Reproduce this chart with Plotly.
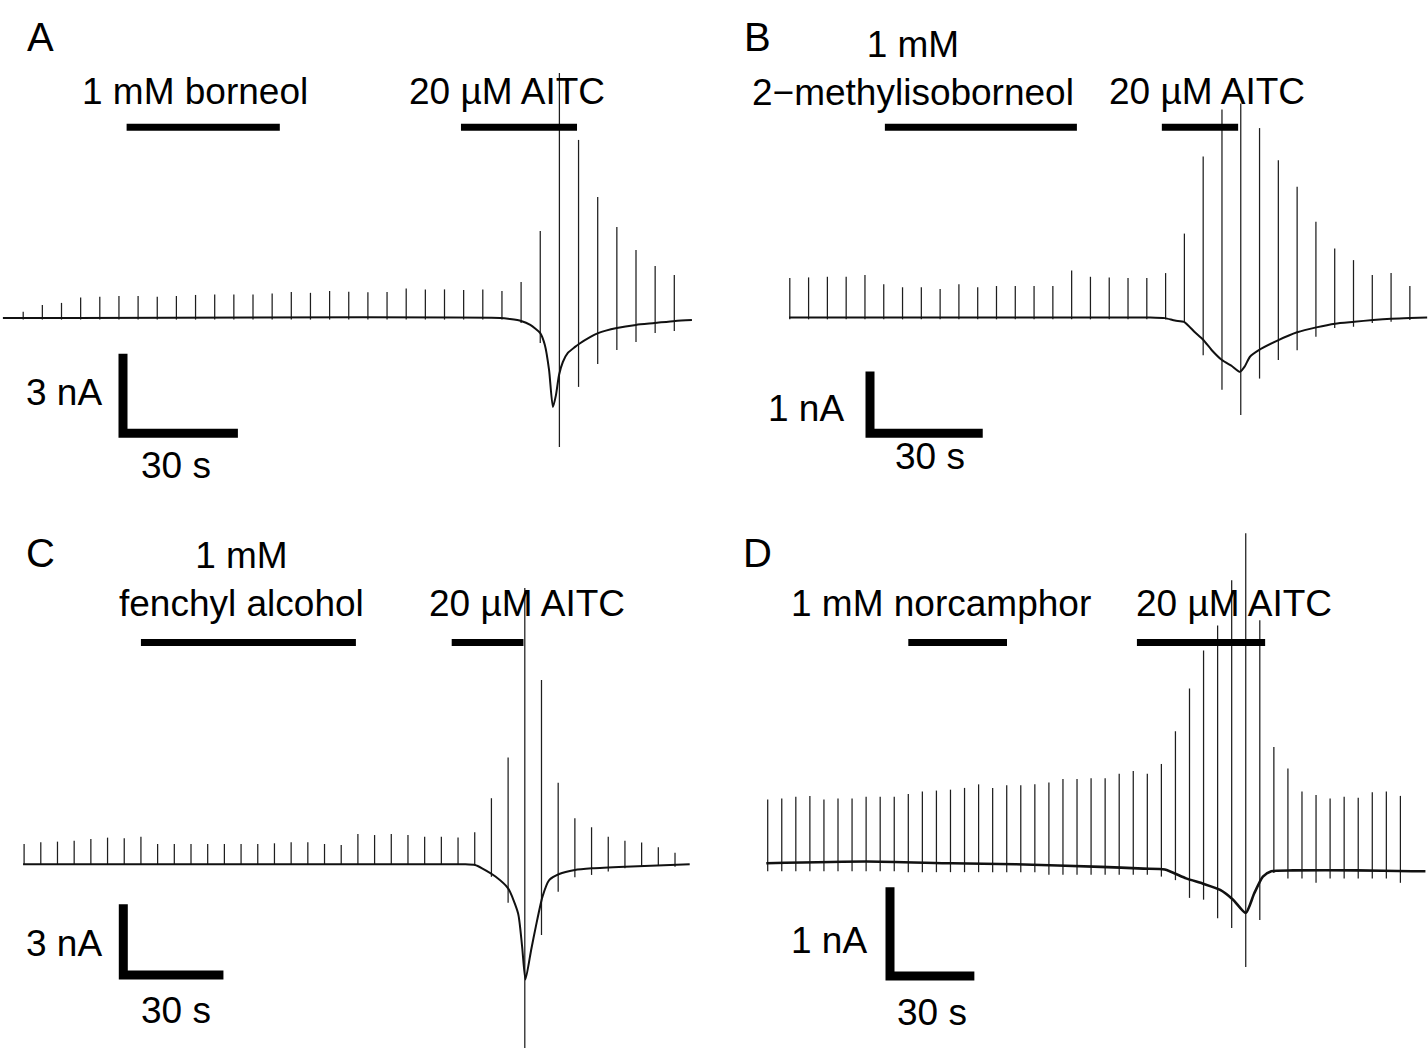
import plotly.graph_objects as go

W, H = 1428, 1053
FONT = "Liberation Sans, Arial, Helvetica, sans-serif"

# ================= DATA (time in s, current in nA) =================
# ---- Panel A : 1 mM borneol, then 20 uM AITC ----
A_spike_t = [0, 5, 10, 15, 20, 25, 30, 35, 40, 45, 50, 55, 60, 65, 70, 75, 80, 85,
             90, 95, 100, 105, 110, 115, 120, 125, 130, 135, 140, 145, 150, 155, 160, 165, 170]
A_spike_top = [0.24, 0.49, 0.57, 0.77, 0.80, 0.83, 0.83, 0.80, 0.83, 0.87, 0.89, 0.89, 0.89,
               0.92, 0.98, 0.95, 1.02, 0.99, 0.97, 0.98, 1.11, 1.08, 1.08, 1.06, 1.08, 1.02,
               1.36, 3.28, 9.25, 6.72, 4.57, 3.43, 2.57, 1.96, 1.62]
A_spike_bot = [-0.06, -0.06, -0.06, -0.06, -0.06, -0.06, -0.06, -0.06, -0.06, -0.06, -0.06,
               -0.06, -0.06, -0.06, -0.06, -0.06, -0.06, -0.06, -0.06, -0.06, -0.06, -0.06,
               -0.06, -0.06, -0.06, -0.06, -0.19, -0.94, -4.87, -2.60, -1.74, -1.21, -0.91,
               -0.57, -0.49]
A_base_t = [-5.3, 124.5, 127.1, 130.0, 132.4, 135.0, 136.2, 137.3, 138.3, 139.1, 139.9, 140.9,
            142.2, 144.1, 145.1, 148.0, 150.1, 155.0, 160.0, 164.9, 170.2, 174.6]
A_base_i = [0, 0, -0.04, -0.11, -0.26, -0.57, -1.02, -1.96, -3.36, -2.91, -2.15, -1.66,
            -1.32, -1.09, -0.98, -0.72, -0.57, -0.38, -0.26, -0.19, -0.11, -0.08]
A_drugs = ["1 mM borneol", "20 µM AITC"]
A_drug_on = [27.0, 114.3]
A_drug_off = [67.0, 144.6]

# ---- Panel B : 1 mM 2-methylisoborneol, then 20 uM AITC ----
B_spike_t = [0, 5, 10, 15, 20, 25, 30, 35, 40, 45, 50, 55, 60, 65, 70, 75, 80, 85,
             90, 95, 100, 105, 110, 115, 120, 125, 130, 135, 140, 145, 150, 155, 160, 165]
B_spike_top = [0.64, 0.65, 0.66, 0.66, 0.69, 0.54, 0.49, 0.49, 0.46, 0.54, 0.49, 0.51, 0.51,
               0.51, 0.51, 0.76, 0.66, 0.65, 0.64, 0.64, 0.72, 1.36, 2.61, 3.37, 3.47, 3.07,
               2.55, 2.12, 1.55, 1.12, 0.93, 0.69, 0.72, 0.51]
B_spike_bot = [-0.03, -0.03, -0.03, -0.03, -0.03, -0.03, -0.03, -0.03, -0.03, -0.03, -0.03,
               -0.03, -0.03, -0.03, -0.03, -0.03, -0.03, -0.03, -0.03, -0.03, -0.03, -0.07,
               -0.61, -1.17, -1.58, -0.99, -0.69, -0.53, -0.31, -0.17, -0.15, -0.09, -0.07,
               -0.04]
B_base_t = [-0.2, 95.9, 99.8, 102.5, 104.9, 107.8, 110.0, 112.3, 115.0, 117.7, 119.8, 121.1,
            122.4, 124.8, 129.9, 135.0, 140.1, 145.1, 150.2, 155.2, 160.0, 165.0, 169.6]
B_base_i = [0, 0, -0.01, -0.05, -0.07, -0.24, -0.36, -0.53, -0.69, -0.79, -0.88, -0.79,
            -0.64, -0.53, -0.37, -0.24, -0.16, -0.10, -0.07, -0.04, -0.02, -0.01, 0]
B_drugs = ["1 mM<br>2−methylisoborneol", "20 µM AITC"]
B_drug_on = [25.3, 99.0]
B_drug_off = [76.4, 119.3]

# ---- Panel C : 1 mM fenchyl alcohol, then 20 uM AITC ----
C_spike_t = [0, 5, 10, 15, 20, 25, 30, 35, 40, 45, 50, 55, 60, 65, 70, 75, 80, 85, 90, 95,
             100, 105, 110, 115, 120, 125, 130, 135, 140, 145, 150, 155, 160, 165, 170, 175,
             180, 185, 190, 195]
C_spike_top = [0.86, 0.93, 0.96, 1.00, 1.07, 1.13, 1.10, 1.17, 0.86, 0.86, 0.86, 0.86, 0.86,
               0.86, 0.86, 0.89, 0.93, 0.93, 0.86, 0.82, 1.28, 1.24, 1.28, 1.24, 1.17, 1.17,
               1.14, 1.36, 2.80, 4.53, 11.71, 7.81, 3.46, 1.95, 1.57, 1.17, 1.00, 0.92, 0.72,
               0.49]
C_spike_bot = [-0.02, -0.02, -0.02, -0.02, -0.02, -0.02, -0.02, -0.02, -0.02, -0.02, -0.02,
               -0.02, -0.02, -0.02, -0.02, -0.02, -0.02, -0.02, -0.02, -0.02, -0.02, -0.02,
               -0.02, -0.02, -0.02, -0.02, -0.02, -0.02, -0.53, -1.63, -7.78, -3.00, -1.16,
               -0.55, -0.45, -0.31, -0.17, -0.10, -0.07, -0.10]
C_base_t = [-0.3, 131.8, 135.1, 137.2, 141.2, 145.0, 148.0, 149.2, 150.2, 151.9, 153.3, 155.3,
            157.3, 160.3, 165.0, 170.1, 180.0, 199.4]
C_base_i = [0, 0, -0.03, -0.17, -0.52, -1.02, -2.08, -3.49, -4.88, -3.63, -2.64, -1.37,
            -0.67, -0.41, -0.24, -0.17, -0.10, 0]
C_drugs = ["1 mM<br>fenchyl alcohol", "20 µM AITC"]
C_drug_on = [35.0, 128.1]
C_drug_off = [99.4, 149.6]

# ---- Panel D : 1 mM norcamphor, then 20 uM AITC ----
D_spike_t = [0, 5, 10, 15, 20, 25, 30, 35, 40, 45, 50, 55, 60, 65, 70, 75, 80, 85, 90, 95,
             100, 105, 110, 115, 120, 125, 130, 135, 140, 145, 150, 155, 160, 165, 170, 175,
             180, 185, 190, 195, 200, 205, 210, 215, 220, 225]
D_spike_top = [0.72, 0.73, 0.75, 0.76, 0.72, 0.73, 0.73, 0.75, 0.75, 0.75, 0.78, 0.81, 0.82,
               0.83, 0.85, 0.89, 0.85, 0.88, 0.88, 0.89, 0.91, 0.95, 0.95, 0.96, 0.96, 1.01,
               1.04, 1.01, 1.12, 1.49, 1.97, 2.40, 2.68, 3.19, 3.72, 2.74, 1.31, 1.07, 0.81,
               0.77, 0.73, 0.75, 0.74, 0.80, 0.81, 0.76]
D_spike_bot = [-0.09, -0.09, -0.09, -0.09, -0.09, -0.09, -0.09, -0.09, -0.09, -0.09, -0.10,
               -0.10, -0.10, -0.10, -0.10, -0.10, -0.10, -0.10, -0.10, -0.10, -0.13, -0.13,
               -0.13, -0.13, -0.13, -0.13, -0.13, -0.13, -0.15, -0.19, -0.39, -0.41, -0.62,
               -0.73, -1.17, -0.64, -0.11, -0.17, -0.17, -0.22, -0.17, -0.17, -0.17, -0.17,
               -0.17, -0.22]
D_base_t = [-0.5, 35.1, 65.4, 88.2, 118.5, 133.6, 141.2, 148.8, 154.8, 160.9, 165.5, 170.0,
            173.0, 176.1, 179.1, 186.7, 209.4, 229.1, 233.9]
D_base_i = [0, 0.02, 0, -0.01, -0.04, -0.06, -0.07, -0.17, -0.23, -0.30, -0.41, -0.56,
            -0.34, -0.15, -0.09, -0.08, -0.08, -0.09, -0.09]
D_drugs = ["1 mM norcamphor", "20 µM AITC"]
D_drug_on = [50.0, 131.3]
D_drug_off = [85.1, 176.9]

# scale bars (current, time)
SCALE_NA = {"A": 3, "B": 1, "C": 3, "D": 1}
SCALE_S = 30

# ================= LAYOUT (pixel geometry) =================
# origin px = pixel position of (t=0, I=0); pps = px per s; ppn = px per nA
P = {
    "A": dict(ax=1, dom_x=(0, 0.5), dom_y=(0.5, 1), x0=23.2, y0=318.0, pps=3.83, ppn=26.5,
              base_w=2.0, sb=(123, 433.3), bar_y=127.3,
              label=("A", 40, 37), drug_lbl=[(195, 92), (507, 92)],
              sb_lbl=[("3 nA", 64, 392), ("30 s", 176, 465)]),
    "B": dict(ax=2, dom_x=(0.5, 1), dom_y=(0.5, 1), x0=789.8, y0=317.5, pps=3.758, ppn=61.7,
              base_w=2.0, sb=(870, 433.3), bar_y=127.3,
              label=("B", 757, 37), drug_lbl=[(913, 68), (1207, 92)],
              sb_lbl=[("1 nA", 806, 408), ("30 s", 930, 457)]),
    "C": dict(ax=3, dom_x=(0, 0.5), dom_y=(0, 0.5), x0=24.1, y0=864.3, pps=3.338, ppn=23.6,
              base_w=2.0, sb=(123.3, 975), bar_y=642.5,
              label=("C", 40, 553), drug_lbl=[(241, 579), (527, 603)],
              sb_lbl=[("3 nA", 64, 943), ("30 s", 176, 1010)]),
    "D": dict(ax=4, dom_x=(0.5, 1), dom_y=(0, 0.5), x0=767.7, y0=863.3, pps=2.812, ppn=88.7,
              base_w=2.6, sb=(890, 976), bar_y=642.5,
              label=("D", 757, 553), drug_lbl=[(941, 603), (1234, 603)],
              sb_lbl=[("1 nA", 829, 940), ("30 s", 932, 1012)]),
}

DATA = {
    "A": (A_spike_t, A_spike_top, A_spike_bot, A_base_t, A_base_i, A_drugs, A_drug_on, A_drug_off),
    "B": (B_spike_t, B_spike_top, B_spike_bot, B_base_t, B_base_i, B_drugs, B_drug_on, B_drug_off),
    "C": (C_spike_t, C_spike_top, C_spike_bot, C_base_t, C_base_i, C_drugs, C_drug_on, C_drug_off),
    "D": (D_spike_t, D_spike_top, D_spike_bot, D_base_t, D_base_i, D_drugs, D_drug_on, D_drug_off),
}

fig = go.Figure()
shapes, annotations = [], []
layout_axes = {}


def px_to_t(p, px):
    return (px - p["x0"]) / p["pps"]


def py_to_i(p, py):
    return (p["y0"] - py) / p["ppn"]


for key, p in P.items():
    sp_t, sp_top, sp_bot, b_t, b_i, drugs, d_on, d_off = DATA[key]
    n = p["ax"]
    xa = "x" if n == 1 else f"x{n}"
    ya = "y" if n == 1 else f"y{n}"
    L, R = p["dom_x"][0] * W, p["dom_x"][1] * W
    T, B = (1 - p["dom_y"][1]) * H, (1 - p["dom_y"][0]) * H
    layout_axes["xaxis" if n == 1 else f"xaxis{n}"] = dict(
        domain=list(p["dom_x"]), range=[px_to_t(p, L), px_to_t(p, R)],
        visible=False, fixedrange=True, anchor=ya)
    layout_axes["yaxis" if n == 1 else f"yaxis{n}"] = dict(
        domain=list(p["dom_y"]), range=[py_to_i(p, B), py_to_i(p, T)],
        visible=False, fixedrange=True, anchor=xa)

    # stimulus-evoked transients (vertical deflections)
    sx, sy = [], []
    for t, top, bot in zip(sp_t, sp_top, sp_bot):
        sx += [t, t, None]
        sy += [bot, top, None]
    fig.add_trace(go.Scatter(x=sx, y=sy, mode="lines", xaxis=xa, yaxis=ya,
                             line=dict(color="#1e1e1e", width=1.25),
                             hoverinfo="skip", showlegend=False))
    # holding current trace
    fig.add_trace(go.Scatter(x=b_t, y=b_i, mode="lines", xaxis=xa, yaxis=ya,
                             line=dict(color="#111111", width=p["base_w"], shape="spline",
                                       smoothing=0.6),
                             hoverinfo="skip", showlegend=False))
    # scale bar
    st = px_to_t(p, p["sb"][0])
    si = py_to_i(p, p["sb"][1])
    fig.add_trace(go.Scatter(x=[st, st, st + SCALE_S], y=[si + SCALE_NA[key], si, si],
                             mode="lines", xaxis=xa, yaxis=ya,
                             line=dict(color="black", width=9),
                             hoverinfo="skip", showlegend=False))
    # drug application bars
    for on, off in zip(d_on, d_off):
        shapes.append(dict(type="line", xref=xa, yref="paper", x0=on, x1=off,
                           y0=1 - p["bar_y"] / H, y1=1 - p["bar_y"] / H,
                           line=dict(color="black", width=7)))
    # texts
    lbl, lx, ly = p["label"]
    annotations.append(dict(text=lbl, x=lx / W, y=1 - ly / H, xref="paper", yref="paper",
                            showarrow=False, xanchor="center", yanchor="middle",
                            font=dict(family=FONT, size=40, color="black")))
    for txt, (lx, ly) in zip(drugs, p["drug_lbl"]):
        annotations.append(dict(text=txt, x=lx / W, y=1 - ly / H, xref="paper", yref="paper",
                                showarrow=False, xanchor="center", yanchor="middle",
                                font=dict(family=FONT, size=37, color="black")))
    for txt, lx, ly in p["sb_lbl"]:
        annotations.append(dict(text=txt, x=lx / W, y=1 - ly / H, xref="paper", yref="paper",
                                showarrow=False, xanchor="center", yanchor="middle",
                                font=dict(family=FONT, size=37, color="black")))

fig.update_layout(width=W, height=H, margin=dict(l=0, r=0, t=0, b=0),
                  paper_bgcolor="white", plot_bgcolor="white",
                  shapes=shapes, annotations=annotations, showlegend=False,
                  **layout_axes)

fig.write_html("out.html", include_plotlyjs=True, config={"displayModeBar": False})
